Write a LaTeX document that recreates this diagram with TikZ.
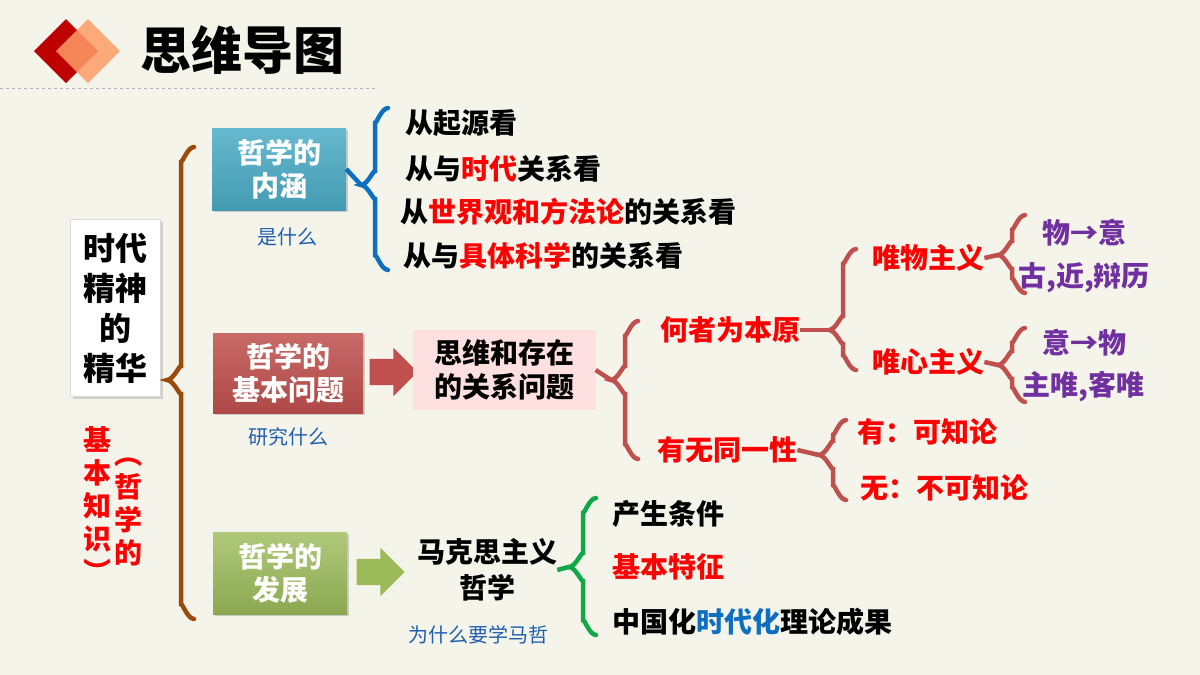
\documentclass[tikz,border=0pt]{standalone}
\usepackage{fontspec}
\setmainfont{Noto Sans CJK SC}
\usetikzlibrary{positioning,shapes.arrows,shadows,calc}
\definecolor{bg}{HTML}{F5F4EA}
\definecolor{brown}{HTML}{9C4A0A}
\definecolor{bluebr}{HTML}{0E6FC0}
\definecolor{redbr}{HTML}{C0504D}
\definecolor{greenbr}{HTML}{12A84A}
\definecolor{purp}{HTML}{7030A0}
\definecolor{hand}{HTML}{1F5FB0}
\definecolor{hot}{HTML}{FF0000}
\definecolor{boxblue}{HTML}{4BACC6}
\definecolor{boxgreen}{HTML}{9BBB59}
% curly brace: x, top, tip, bottom
\newcommand\mbrace[5]{%
  \draw[#5,line width=4.5pt,line cap=round] (#1+13,#2) to[out=180,in=-90] (#1,#2+13)
    -- (#1,#3-12) to[out=90,in=0] (#1-14,#3) to[out=0,in=-90] (#1,#3+12)
    -- (#1,#4-13) to[out=90,in=180] (#1+13,#4);}
\tikzset{
  topic/.style={minimum width=134pt,minimum height=82pt,align=center,text=white,
    font=\fontsize{28}{33}\selectfont\bfseries,inner sep=0pt,drop shadow={opacity=.35,shadow xshift=2pt,shadow yshift=-2pt}},
  item/.style={anchor=west,inner sep=0pt,font=\fontsize{28}{32}\selectfont\bfseries},
  note/.style={inner sep=0pt,text=hand,font=\fontsize{20}{22}\selectfont},
  fat/.style={single arrow,draw=none,minimum height=48pt,inner ysep=13pt,inner xsep=0pt,
    single arrow head extend=11pt}
}
\begin{document}
\begin{tikzpicture}[x=1pt,y=-1pt]
  \fill[bg] (0,0) rectangle (1200,675);
  \useasboundingbox (0,0) rectangle (1200,675);

  % header
  \fill[red!75!black] (66,19) -- (98,51) -- (66,83) -- (34,51) -- cycle;
  \fill[orange!70!red!60,opacity=.85] (88,19) -- (120,51) -- (88,83) -- (56,51) -- cycle;
  \node[anchor=west,font=\fontsize{51}{55}\selectfont\bfseries] (title) at (137,50) {思维导图};
  \draw[gray!60,dashed,line width=1pt] (0,88) -- (378,88);

  % root
  \node[fill=white,draw=gray!30,minimum width=90pt,minimum height=177pt,align=center,
    font=\fontsize{32}{40}\selectfont\bfseries,drop shadow={opacity=.3}] (root) at (115,308)
    {时代\\精神\\的\\精华};
  \node[text=hot,align=center,font=\fontsize{28}{33}\selectfont\bfseries,inner sep=0pt] (kn1) at (97,505) {基\\本\\知\\识\\︶};
  \node[text=hot,align=center,font=\fontsize{28}{33}\selectfont\bfseries,inner sep=0pt] (kn2) at (128,512) {︵\\哲\\学\\的};
  \mbrace{181}{147}{380}{619}{brown}

  % topics
  \node[topic,top color=boxblue!85!white,bottom color=boxblue!90!black] (neihan) at (279,169) {哲学的\\内涵};
  \node[note] (n1) at (287,237) {是什么};
  \node[topic,minimum width=150pt,minimum height=80pt,top color=redbr!85!white,bottom color=redbr!90!black] (jiben) at (288,373) {哲学的\\基本问题};
  \node[note] (n2) at (288,437) {研究什么};
  \node[topic,top color=boxgreen!80!white,bottom color=boxgreen!90!black] (fazhan) at (280,573) {哲学的\\发展};
  \node[note] (n3) at (478,635) {为什么要学马哲};

  % contents
  \mbrace{375}{108}{185}{270}{bluebr}
  \draw[bluebr,line width=4.5pt] (neihan.east) -- (361,185);
  \node[item] (a1) at (405,123) {从起源看};
  \node[item] (a2) at (405,169) {从与\textcolor{hot}{时代}关系看};
  \node[item] (a3) at (400,212) {从\textcolor{hot}{世界观和方法论}的关系看};
  \node[item] (a4) at (403,256) {从与\textcolor{hot}{具体科学}的关系看};

  % basic question
  \node[fat,fill=redbr] (ar1) at (387,372) {};
  \node[fill=red!12,minimum width=183pt,minimum height=80pt,align=center,inner sep=0pt,
    font=\fontsize{28}{34}\selectfont\bfseries] (rel) at (504,370) {思维和存在\\的关系问题};
  \mbrace{625}{321}{380}{459}{redbr}
  \draw[redbr,line width=4.5pt] (rel.east) -- (611,380);
  \node[item,text=hot] (q1) at (660,330) {何者为本原};
  \node[item,text=hot] (q2) at (657,450) {有无同一性};
  \mbrace{843}{249}{330}{370}{redbr}
  \draw[redbr,line width=4.5pt] (q1.east) -- (829,330);
  \node[item,text=hot] (m1) at (872,258) {唯物主义};
  \node[item,text=hot] (m2) at (872,362) {唯心主义};
  \mbrace{1012}{215}{255}{293}{redbr}
  \draw[redbr,line width=4.5pt] (m1.east) -- (998,255);
  \node[item,text=purp] (p1) at (1042,233) {物→意};
  \node[item,text=purp] (p2) at (1018,278) {古,近,辩历};
  \mbrace{1012}{328}{365}{402}{redbr}
  \draw[redbr,line width=4.5pt] (m2.east) -- (998,365);
  \node[item,text=purp] (p3) at (1042,343) {意→物};
  \node[item,text=purp] (p4) at (1022,387) {主唯,客唯};
  \mbrace{833}{420}{455}{500}{redbr}
  \draw[redbr,line width=4.5pt] (q2.east) -- (819,455);
  \node[item,text=hot] (k1) at (857,432) {有：可知论};
  \node[item,text=hot] (k2) at (860,488) {无：不可知论};

  % development
  \node[fat,fill=boxgreen] (ar2) at (374,572) {};
  \node[align=center,inner sep=0pt,font=\fontsize{28}{36}\selectfont\bfseries] (mks) at (487,570) {马克思主义\\哲学};
  \mbrace{583}{498}{567}{635}{greenbr}
  \draw[greenbr,line width=4.5pt] (mks.east) -- (569,567);
  \node[item] (d1) at (612,514) {产生条件};
  \node[item,text=hot] (d2) at (612,567) {基本特征};
  \node[item] (d3) at (612,622) {中国化\textcolor{bluebr}{时代化}理论成果};
\end{tikzpicture}
\end{document}
